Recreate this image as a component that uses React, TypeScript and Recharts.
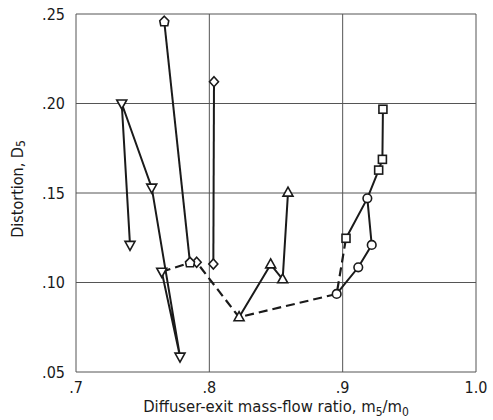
import React from 'react'
import { LineChart, Line, XAxis, YAxis, CartesianGrid } from 'recharts'

type Mark = 'triDown' | 'triUp' | 'pent' | 'diamond' | 'circle' | 'square' | 'none'
type Pt = { x: number; y: number; m: Mark }

const FONT = "'DejaVu Sans Condensed', 'Liberation Sans Narrow', 'DejaVu Sans', sans-serif"
const INK = '#1a1a1a'

const X_TICKS = [0.7, 0.8, 0.9, 1.0]
const Y_TICKS = [0.05, 0.1, 0.15, 0.2, 0.25]

// inverted triangles, drawn as one path
const downTriangles: Pt[] = [
  { x: 0.7405, y: 0.121, m: 'triDown' },
  { x: 0.7343, y: 0.2, m: 'triDown' },
  { x: 0.7568, y: 0.153, m: 'triDown' },
  { x: 0.778, y: 0.0586, m: 'triDown' },
  { x: 0.7643, y: 0.106, m: 'triDown' },
]

const pentagons: Pt[] = [
  { x: 0.7662, y: 0.2457, m: 'pent' },
  { x: 0.7855, y: 0.111, m: 'pent' },
]

const diamonds: Pt[] = [
  { x: 0.8035, y: 0.2122, m: 'diamond' },
  { x: 0.803, y: 0.1103, m: 'diamond' },
]

// dashed envelope through the lowest points
const envelope: Pt[] = [
  { x: 0.7643, y: 0.106, m: 'none' },
  { x: 0.7855, y: 0.111, m: 'none' },
  { x: 0.7905, y: 0.1113, m: 'diamond' },
  { x: 0.8223, y: 0.0806, m: 'none' },
  { x: 0.8955, y: 0.0936, m: 'none' },
  { x: 0.9025, y: 0.1247, m: 'none' },
]

const upTriangles: Pt[] = [
  { x: 0.8223, y: 0.0806, m: 'triUp' },
  { x: 0.846, y: 0.1101, m: 'triUp' },
  { x: 0.855, y: 0.1018, m: 'triUp' },
  { x: 0.859, y: 0.1502, m: 'triUp' },
]

const circles: Pt[] = [
  { x: 0.8955, y: 0.0936, m: 'circle' },
  { x: 0.9117, y: 0.1085, m: 'circle' },
  { x: 0.9218, y: 0.121, m: 'circle' },
  { x: 0.9185, y: 0.147, m: 'circle' },
]

const squares: Pt[] = [
  { x: 0.9025, y: 0.1247, m: 'square' },
  { x: 0.9185, y: 0.147, m: 'none' },
  { x: 0.927, y: 0.1628, m: 'square' },
  { x: 0.9298, y: 0.1688, m: 'square' },
  { x: 0.9302, y: 0.1968, m: 'square' },
]

const SERIES: { name: string; data: Pt[]; dashed?: boolean }[] = [
  { name: 'envelope', data: envelope, dashed: true },
  { name: 'down', data: downTriangles },
  { name: 'pent', data: pentagons },
  { name: 'diamond', data: diamonds },
  { name: 'up', data: upTriangles },
  { name: 'circle', data: circles },
  { name: 'square', data: squares },
]

function Marker(props: any) {
  const { cx, cy, payload, index } = props
  const m: Mark = payload?.m ?? 'none'
  const common = { fill: '#fff', stroke: INK, strokeWidth: 1.6 }
  const k = `${m}-${index}`
  if (cx == null || cy == null || m === 'none') return <g key={k} />
  switch (m) {
    case 'circle':
      return <circle key={k} cx={cx} cy={cy} r={4.3} {...common} />
    case 'square':
      return <rect key={k} x={cx - 4} y={cy - 4} width={8} height={8} {...common} />
    case 'diamond':
      return <path key={k} d={`M${cx},${cy - 5} L${cx + 4.5},${cy} L${cx},${cy + 5} L${cx - 4.5},${cy} Z`} {...common} />
    case 'triUp':
      return <path key={k} d={`M${cx},${cy - 5.5} L${cx + 5},${cy + 3.5} L${cx - 5},${cy + 3.5} Z`} {...common} />
    case 'triDown':
      return <path key={k} d={`M${cx - 5},${cy - 3.5} L${cx + 5},${cy - 3.5} L${cx},${cy + 5.5} Z`} {...common} />
    case 'pent':
      return (
        <path
          key={k}
          d={`M${cx},${cy - 5.5} L${cx + 4.5},${cy - 1} L${cx + 3.5},${cy + 4} L${cx - 3.5},${cy + 4} L${cx - 4.5},${cy - 1} Z`}
          {...common}
        />
      )
    default:
      return <g key={k} />
  }
}

function fmtX(v: number) {
  return v >= 1 ? '1.0' : '.' + Math.round(v * 10)
}

function fmtY(v: number) {
  return '.' + String(Math.round(v * 100)).padStart(2, '0')
}

function XTitle(props: any) {
  const vb = props.viewBox ?? {}
  const x = (vb.x ?? 0) + (vb.width ?? 0) / 2
  const y = (vb.y ?? 0) + 40
  return (
    <text x={x} y={y} textAnchor="middle" fontFamily={FONT} fontSize={16.5} fill={INK}>
      Diffuser-exit mass-flow ratio, m
      <tspan fontSize={12} dy={4}>5</tspan>
      <tspan dy={-4}>/m</tspan>
      <tspan fontSize={12} dy={4}>0</tspan>
    </text>
  )
}

function YTitle(props: any) {
  const vb = props.viewBox ?? {}
  const x = 17
  const y = (vb.y ?? 0) + (vb.height ?? 0) / 2 - 4
  return (
    <text x={x} y={y} transform={`rotate(-90, ${x}, ${y})`} textAnchor="middle" dominantBaseline="central" fontFamily={FONT} fontSize={16} fill={INK}>
      Distortion, D
      <tspan fontSize={12} dy={4}>5</tspan>
    </text>
  )
}

export default function App() {
  return (
    <div style={{ position: 'absolute', left: 0, top: 0, width: 493, height: 420, background: '#fff' }}>
      <LineChart width={493} height={420} margin={{ top: 14, right: 17, bottom: 0, left: 0 }}>
        <CartesianGrid stroke="#555" strokeWidth={1} horizontalValues={Y_TICKS} verticalValues={X_TICKS} />
        <XAxis
          dataKey="x"
          type="number"
          domain={[0.7, 1.0]}
          ticks={X_TICKS}
          tickFormatter={fmtX}
          axisLine={false}
          tickLine={false}
          tickMargin={4}
          height={48}
          tick={{ fill: INK, fontSize: 16, fontFamily: FONT }}
          allowDataOverflow
          label={<XTitle />}
        />
        <YAxis
          dataKey="y"
          type="number"
          domain={[0.05, 0.25]}
          ticks={Y_TICKS}
          tickFormatter={fmtY}
          axisLine={false}
          tickLine={false}
          tickMargin={5}
          width={76}
          tick={{ fill: INK, fontSize: 16, fontFamily: FONT }}
          allowDataOverflow
          label={<YTitle />}
        />
        {SERIES.map((s) => (
          <Line
            key={s.name}
            data={s.data}
            dataKey="y"
            type="linear"
            stroke={INK}
            strokeWidth={s.dashed ? 2.2 : 2}
            strokeDasharray={s.dashed ? '9 5' : undefined}
            dot={<Marker />}
            activeDot={false}
            isAnimationActive={false}
          />
        ))}
      </LineChart>
    </div>
  )
}
